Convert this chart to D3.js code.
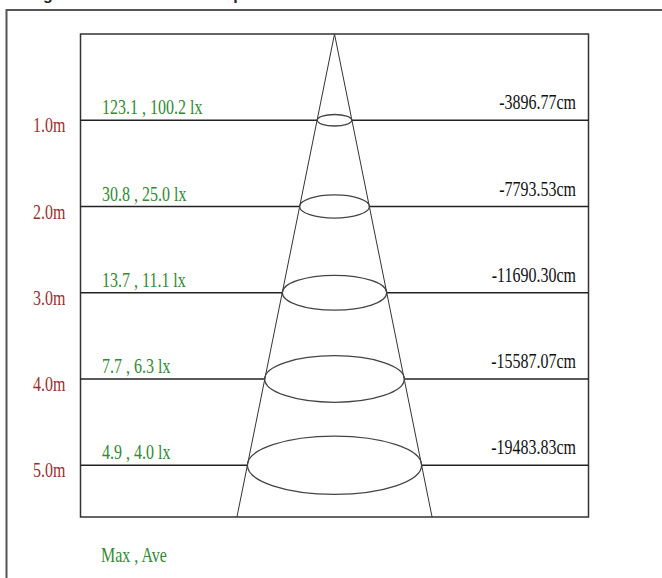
<!DOCTYPE html>
<html>
<head>
<meta charset="utf-8">
<script src="https://cdn.jsdelivr.net/npm/d3@7"></script>
<style>
  html, body { margin: 0; padding: 0; background: #fff; }
  svg { display: block; }
</style>
</head>
<body>
<div id="chart"></div>
<script>
// Distances below the lamp (m)
const distances = [1, 2, 3, 4, 5];
const distanceLabels = ['1.0m', '2.0m', '3.0m', '4.0m', '5.0m'];
// Max , Ave illuminance (lx)
const maxLux = ['123.1', '30.8', '13.7', '7.7', '4.9'];
const aveLux = ['100.2', '25.0', '11.1', '6.3', '4.0'];
// Spot diameter labels on the right
const diameterLabels = ['-3896.77cm', '-7793.53cm', '-11690.30cm', '-15587.07cm', '-19483.83cm'];
// Spot diameters (m)
const diameters = [0.40, 0.81, 1.21, 1.62, 2.02];

const width = 662, height = 578;
const box = { left: 80.5, top: 34, right: 588.5, bottom: 517 };
const depth = 5.6;

const svg = d3.select('#chart').append('svg')
  .attr('width', width)
  .attr('height', height);

// Scales: same px per metre both ways, cone centred
const y = d3.scaleLinear().domain([0, depth]).range([box.top, box.bottom]);
const halfSpan = (box.right - box.left) / 2 / (y(1) - y(0));
const x = d3.scaleLinear().domain([-halfSpan, halfSpan]).range([box.left, box.right]);

const serif = '"Liberation Serif", "Times New Roman", serif';
const green = '#2f8a32';
const red = '#9c2f2f';
const stretch = 1.3; // text in the source is stretched vertically

// Title (cut off at the top edge, only descenders show)
svg.append('text')
  .attr('x', 18)
  .attr('y', -0.5)
  .attr('font-family', 'Arial, "Liberation Sans", sans-serif')
  .attr('font-weight', 'bold')
  .attr('font-size', 16)
  .attr('fill', '#222')
  .text('Single Beam Illuminance Map');

// Outer frame
svg.append('rect')
  .attr('x', 6.5)
  .attr('y', 10)
  .attr('width', 700)
  .attr('height', 600)
  .attr('fill', 'none')
  .attr('stroke', '#555')
  .attr('stroke-width', 2);

// Plot frame
svg.append('rect')
  .attr('x', box.left)
  .attr('y', box.top)
  .attr('width', box.right - box.left)
  .attr('height', box.bottom - box.top)
  .attr('fill', 'none')
  .attr('stroke', '#333')
  .attr('stroke-width', 1.5);

const halfTan = diameters[diameters.length - 1] / 2 / distances[distances.length - 1];
const rows = distances.map((d, i) => ({ d, i, r: diameters[i] / 2 }));

// Distance lines, broken where the spot ellipse sits
const lines = svg.append('g').attr('stroke', '#222').attr('stroke-width', 1.3);
rows.forEach(row => {
  lines.append('line')
    .attr('x1', box.left).attr('x2', x(-row.r))
    .attr('y1', y(row.d)).attr('y2', y(row.d));
  lines.append('line')
    .attr('x1', x(row.r)).attr('x2', box.right)
    .attr('y1', y(row.d)).attr('y2', y(row.d));
});

// Beam cone
const coneEnd = depth * halfTan;
svg.append('g')
  .attr('stroke', '#333')
  .attr('stroke-width', 1)
  .selectAll('line')
  .data([-coneEnd, coneEnd])
  .join('line')
  .attr('x1', x(0)).attr('y1', y(0))
  .attr('x2', d => x(d)).attr('y2', y(depth));

// Spot ellipses
svg.append('g')
  .selectAll('ellipse')
  .data(rows)
  .join('ellipse')
  .attr('cx', x(0))
  .attr('cy', d => y(d.d))
  .attr('rx', d => x(d.r) - x(0))
  .attr('ry', d => (x(d.r) - x(0)) / 3)
  .attr('fill', 'none')
  .attr('stroke', '#444')
  .attr('stroke-width', 1.3);

function stretchedText(g, px, py, anchor, color, size, str) {
  g.append('text')
    .attr('transform', `translate(${px},${py}) scale(1,${stretch})`)
    .attr('text-anchor', anchor)
    .attr('font-family', serif)
    .attr('font-size', size)
    .attr('fill', color)
    .text(str);
}

const labels = svg.append('g');
rows.forEach(row => {
  const ly = y(row.d);
  stretchedText(labels, 33, ly + 12, 'start', red, 16, distanceLabels[row.i]);
  stretchedText(labels, 102, ly - 6, 'start', green, 16, `${maxLux[row.i]} , ${aveLux[row.i]} lx`);
  stretchedText(labels, 576, ly - 11, 'end', '#111', 16, diameterLabels[row.i]);
});

// Legend
stretchedText(svg, 101, 562, 'start', green, 16, 'Max , Ave');
</script>
</body>
</html>
